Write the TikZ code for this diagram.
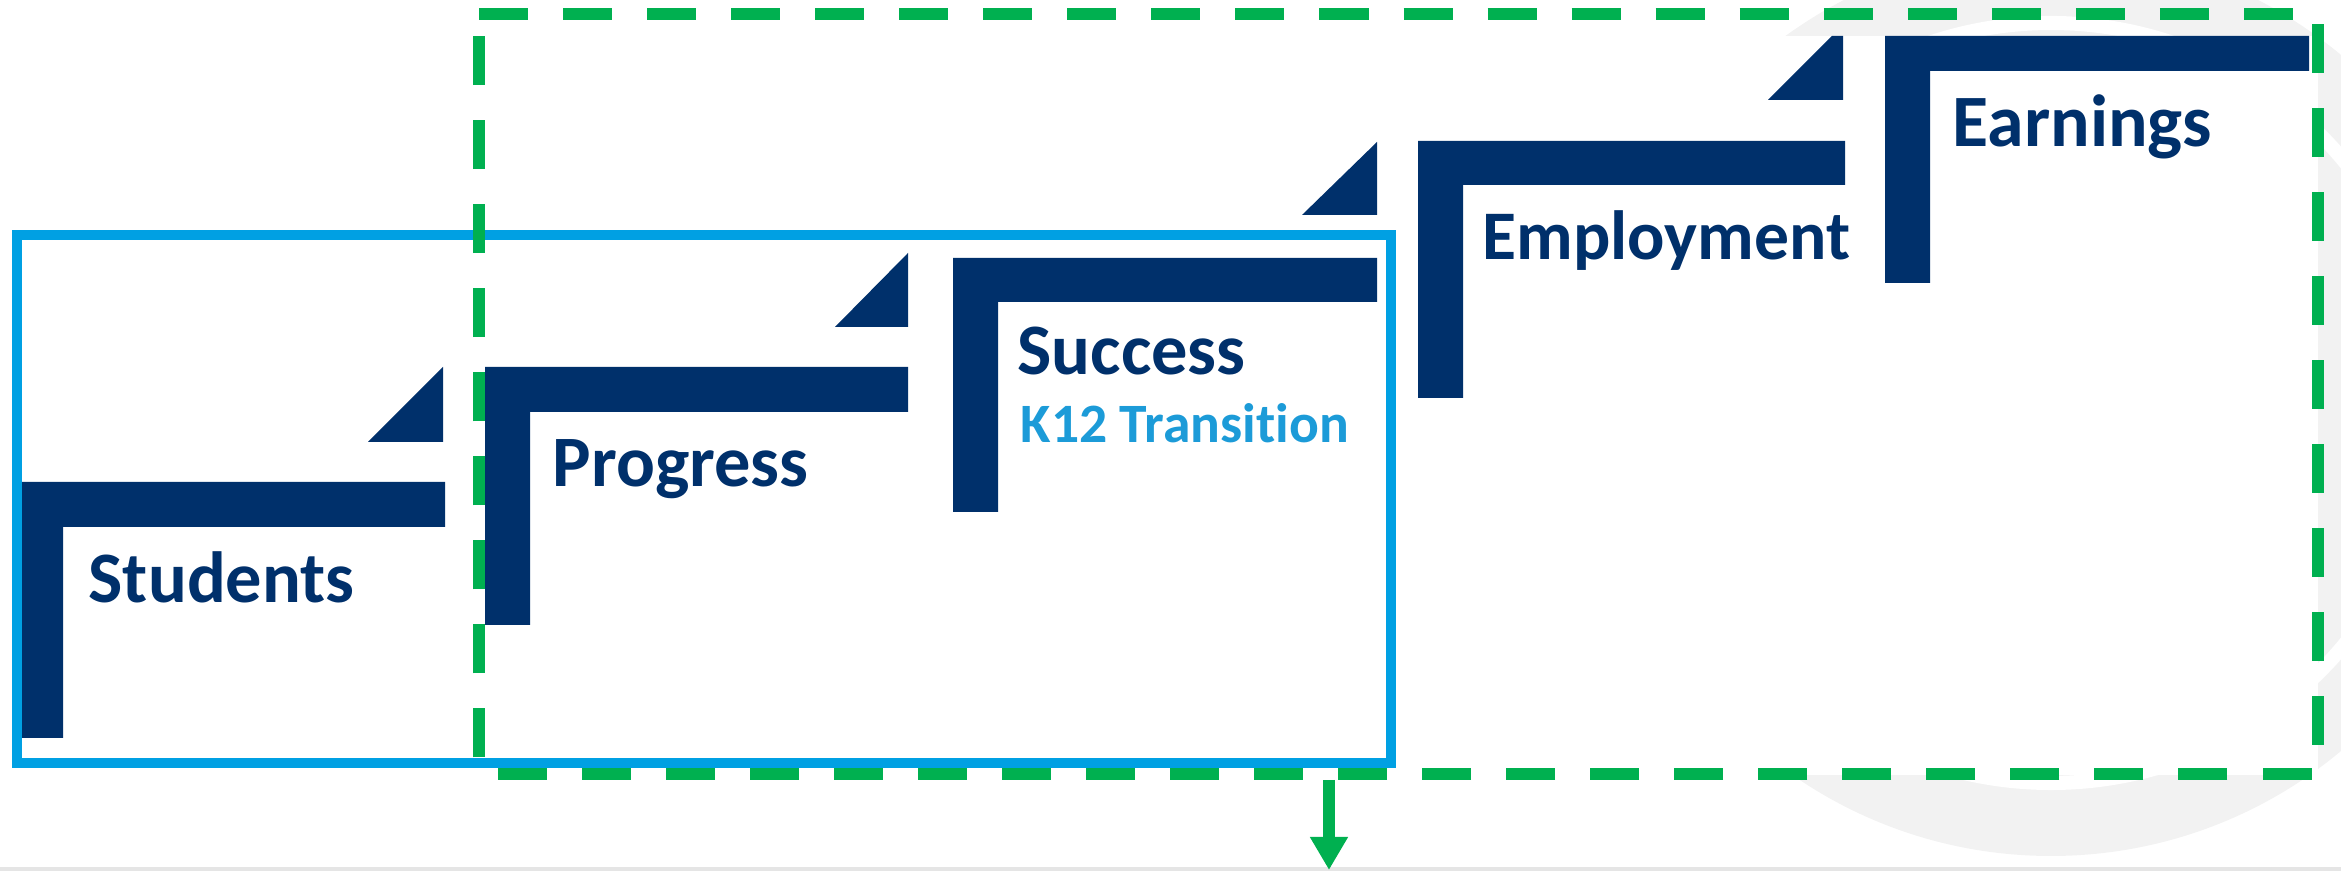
\documentclass[tikz,border=0pt]{standalone}
\usepackage{fontspec}
\setmainfont{Carlito}[Ligatures=NoCommon]
\usetikzlibrary{arrows.meta}

\definecolor{navy}{HTML}{00306B}
\definecolor{boxblue}{HTML}{00A0E3}
\definecolor{kblue}{HTML}{1C9BD8}
\definecolor{dashgreen}{HTML}{00B050}
\definecolor{wmgray}{HTML}{F2F2F2}

\tikzset{
  escalon/.style={fill=navy},
  etiqueta/.style={text=navy, anchor=base west, inner sep=0pt,
    font=\bfseries\fontsize{20.6}{21}\selectfont},
}

\begin{document}
\begin{tikzpicture}[x=0.01cm,y=-0.01cm,>={Triangle[width=10.2pt,length=9.4pt]}]
    \useasboundingbox (0,0) rectangle (2341,871);

    % Marca de agua
    \begin{scope}
      \clip (0,0) rectangle (2341,871);
      \fill[wmgray] (2051,403) circle[radius=453];
      \draw[white, line width=4pt] (2051,403) circle[radius=380];
    \end{scope}
    \fill[white] (0,36) rectangle (2318,775);
    \draw[gray!20, line width=1pt] (0,869) -- (2341,869);

    % Escalones
    \fill[escalon] (20,482) -- (445,482) -- (445,527) -- (63,527) -- (63,738) -- (20,738) -- cycle;
    \fill[escalon] (368,442) -- (443,367) -- (443,442) -- cycle;
    \fill[escalon] (485,367) -- (908,367) -- (908,412) -- (530,412) -- (530,625) -- (485,625) -- cycle;
    \fill[escalon] (835,327) -- (908,253) -- (908,327) -- cycle;
    \fill[escalon] (953,258) -- (1377,258) -- (1377,302) -- (998,302) -- (998,512) -- (953,512) -- cycle;
    \fill[escalon] (1302,215) -- (1377,142) -- (1377,215) -- cycle;
    \fill[escalon] (1418,141) -- (1845,141) -- (1845,185) -- (1463,185) -- (1463,398) -- (1418,398) -- cycle;
    \fill[escalon] (1768,100) -- (1832,36) -- (1843,36) -- (1843,100) -- cycle;
    \fill[escalon] (1885,36) -- (2309,36) -- (2309,71) -- (1930,71) -- (1930,283) -- (1885,283) -- cycle;

    % Etiquetas
    \node[etiqueta] (students) at (88,603) {Students};
    \node[etiqueta] (progress) at (552,487) {Progress};
    \node[etiqueta] (success) at (1017,375) {Success};
    \node[etiqueta, text=kblue, font=\bfseries\fontsize{15.8}{17}\selectfont] (k12) at (1020,443) {K12 Transition};
    \node[etiqueta, font=\bfseries\fontsize{19.8}{20}\selectfont] (employment) at (1482,260) {Employment};
    \node[etiqueta, font=\bfseries\fontsize{21}{22}\selectfont] (earnings) at (1952,147) {Earnings};

    % Marcos
    \draw[boxblue, line width=2.85pt] (17,235) rectangle (1391,763);
    \draw[dashgreen, line width=3.4pt, dash pattern=on 13.94pt off 9.96pt]
      (479,14) -- (2318,14) -- (2318,774) -- (479,774) -- cycle;

    % Flecha
    \coordinate (flechaini) at (1329,780);
    \coordinate (flechafin) at (1329,870);
    \draw[->, dashgreen, line width=3.4pt] (flechaini) -- (flechafin);

  \end{tikzpicture}
\end{document}
